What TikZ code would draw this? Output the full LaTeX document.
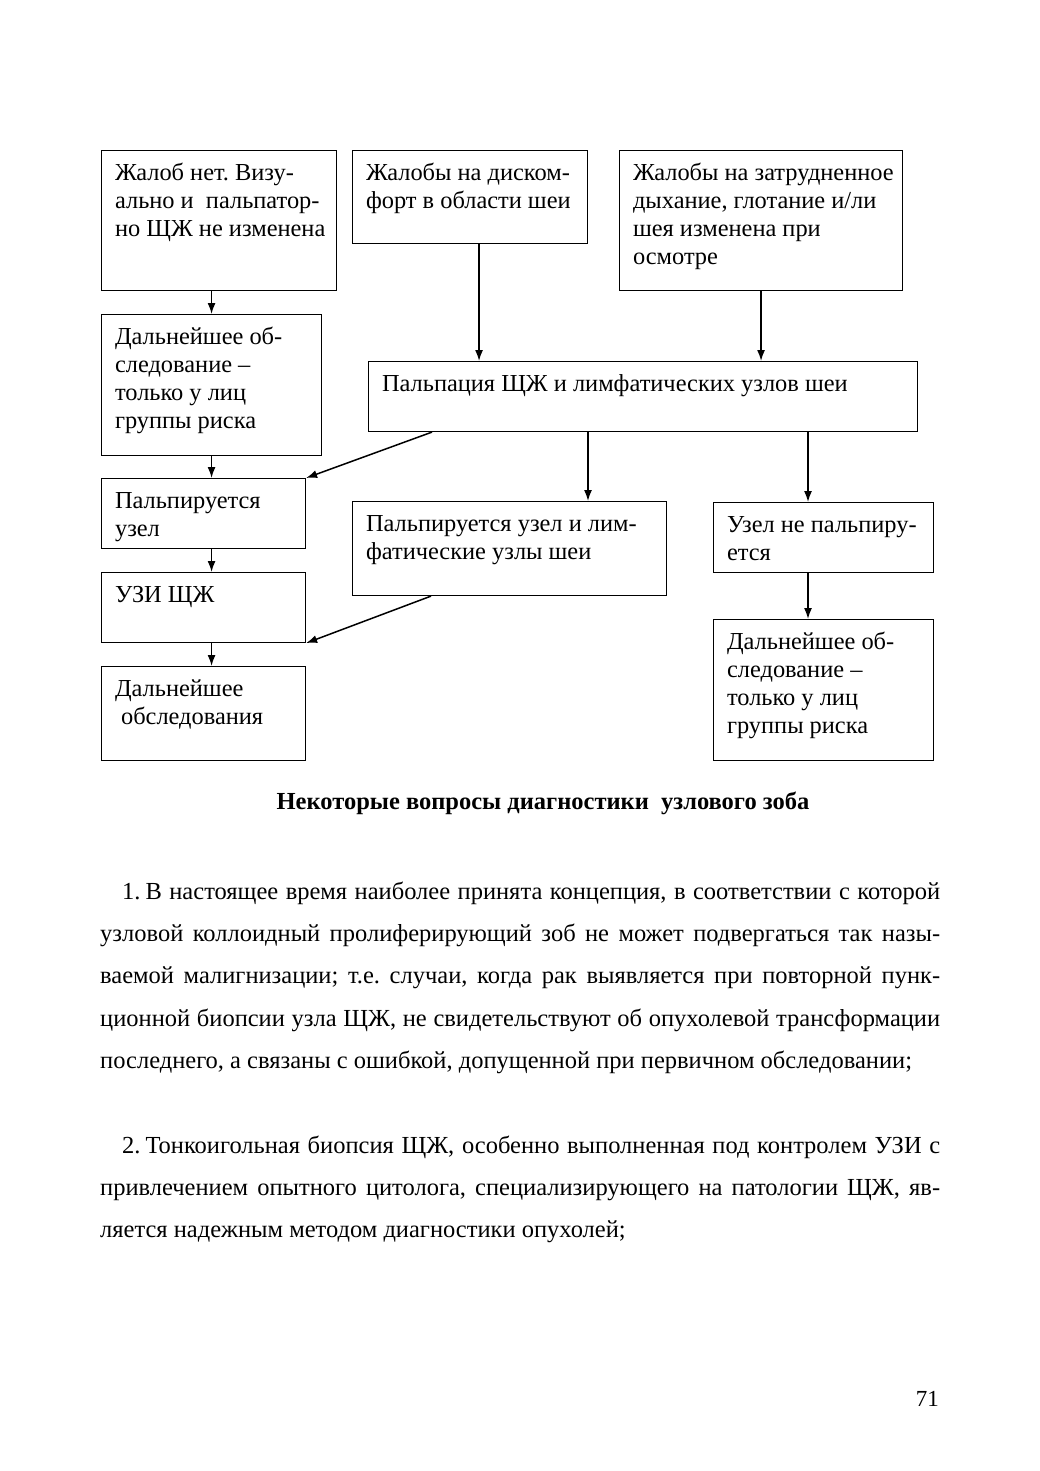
\documentclass[tikz,border=0pt]{standalone}
\usepackage{fontspec}
\setmainfont{Liberation Serif}
\usetikzlibrary{arrows.meta,positioning,calc}
\frenchspacing
\newcommand{\firstline}[1]{\leavevmode\vrule height #1 width 0pt depth 0pt\relax}
\newcommand{\boxtext}[3]{\parbox[c][#2][t]{#1}{\raggedright\leftskip=13.5pt\relax\firstline{29.5pt}#3}}
\newcommand{\paratext}[1]{\parbox[t]{840pt}{\hyphenpenalty=10000\relax\firstline{20pt}#1}}
\tikzset{
  basic/.style = {draw, line width=1.1pt, rectangle, inner sep=0pt, anchor=north west,
    font=\fontsize{24.4}{28}\selectfont},
  para/.style  = {inner sep=0pt, anchor=north west, font=\fontsize{24.5}{42.3}\selectfont},
  heading/.style = {inner sep=0pt, anchor=base, font=\bfseries\fontsize{24.5}{28}\selectfont}
}

\begin{document}
\begin{tikzpicture}[x=1pt, y=-1pt, >={Latex[length=11pt,width=8pt]}]
    \useasboundingbox (0,0) rectangle (1039,1471);

% complaints, first row
    \node[basic] (no_compl) at (101,150) {\boxtext{235pt}{140pt}{Жалоб нет. Визу-\\ально и\ \ пальпатор-\\но ЩЖ не изменена}};
    \node[basic] (discomf) at (352,150) {\boxtext{235pt}{93pt}{Жалобы на диском-\\форт в области шеи}};
    \node[basic] (dyspnea) at (619,150) {\boxtext{283pt}{140pt}{Жалобы на затрудненное\\дыхание, глотание и/ли\\шея изменена при\\осмотре}};

% second row
    \node[basic] (risk_left) at (101,314) {\boxtext{220pt}{141pt}{Дальнейшее об-\\следование --\\только у лиц\\группы риска}};
    \node[basic] (palp) at (368,361) {\boxtext{549pt}{70pt}{Пальпация ЩЖ и лимфатических узлов шеи}};

% results of palpation
    \node[basic] (palp_node) at (101,478) {\boxtext{204pt}{70pt}{Пальпируется\\узел}};
    \node[basic] (palp_lymph) at (352,501) {\boxtext{314pt}{94pt}{Пальпируется узел и лим-\\фатические узлы шеи}};
    \node[basic] (no_node) at (713,502) {\boxtext{220pt}{70pt}{Узел не пальпиру-\\ется}};
    \node[basic] (uzi) at (101,572) {\boxtext{204pt}{70pt}{УЗИ ЩЖ}};
    \node[basic] (further) at (101,666) {\boxtext{204pt}{94pt}{Дальнейшее\\\hspace*{6pt}обследования}};
    \node[basic] (risk_right) at (713,619) {\boxtext{220pt}{141pt}{Дальнейшее об-\\следование --\\только у лиц\\группы риска}};

% connectors
    \begin{scope}[line width=1.5pt]
    \draw[->] (no_compl.south -| risk_left) -- (risk_left.north);
    \draw[->] ([xshift=9pt]discomf.south) -- ([xshift=9pt]discomf.south |- palp.north);
    \draw[->] (dyspnea.south) -- (dyspnea.south |- palp.north);
    \draw[->] (risk_left.south) -- (risk_left.south |- palp_node.north);
    \draw[->] ([xshift=64pt]palp.south west) -- (palp_node.north east);
    \draw[->] ([xshift=220pt]palp.south west) -- ([xshift=220pt]palp.south west |- palp_lymph.north);
    \draw[->] ([xshift=440pt]palp.south west) -- ([xshift=440pt]palp.south west |- no_node.north);
    \draw[->] (palp_node.south -| risk_left) -- (uzi.north -| risk_left);
    \draw[->] ([xshift=79pt]palp_lymph.south west) -- (uzi.south east);
    \draw[->] (uzi.south -| risk_left) -- (further.north -| risk_left);
    \draw[->] ([xshift=95pt]no_node.south west) -- ([xshift=95pt]no_node.south west |- risk_right.north);
    \end{scope}

% text of the page
    \node[heading] (title) at (543,809) {Некоторые вопросы диагностики\ \ узлового зоба};
    \node[para] (item1) at (100,879) {\paratext{\hspace*{22pt}1.\hspace{5pt}В настоящее время наиболее принята концепция, в соответствии с которой\linebreak
      узловой коллоидный пролиферирующий зоб не может подвергаться так назы-\linebreak
      ваемой малигнизации; т.е. случаи, когда рак выявляется при повторной пунк-\linebreak
      ционной биопсии узла ЩЖ, не свидетельствуют об опухолевой трансформации\linebreak
      последнего, а связаны с ошибкой, допущенной при первичном обследовании;}};
    \node[para] (item2) at (100,1133) {\paratext{\hspace*{22pt}2.\hspace{5pt}Тонкоигольная биопсия ЩЖ, особенно выполненная под контролем УЗИ с\linebreak
      привлечением опытного цитолога, специализирующего на патологии ЩЖ, яв-\linebreak
      ляется надежным методом диагностики опухолей;}};
    \node[anchor=base east, inner sep=0pt, font=\fontsize{23}{26}\selectfont] (pagenum) at (939,1406) {71};
  \end{tikzpicture}
\end{document}
